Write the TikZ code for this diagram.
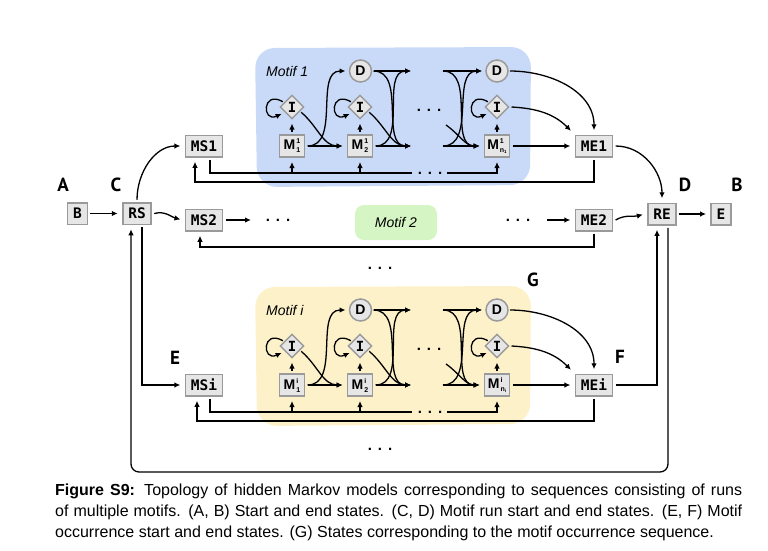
\documentclass[tikz,border=0pt]{standalone}
\usepackage{fontspec}
\setmainfont{Liberation Sans}
\newfontfamily\monofont{DejaVu Sans Mono}
\newfontfamily\labfont{PT Sans}
\usetikzlibrary{arrows.meta,shapes.geometric,calc}

\definecolor{boxfill}{HTML}{E6E6E6}
\definecolor{boxdraw}{HTML}{9A9A9A}
\definecolor{blueblob}{HTML}{C9DAF8}
\definecolor{yellowblob}{HTML}{FCF1C8}
\definecolor{greenblob}{HTML}{D6F5C4}

\newcommand\Mlab[2]{{\bfseries\fontsize{14}{14}\selectfont M}\kern1pt\makebox[0pt][l]{\raisebox{6pt}{\fontsize{7}{7}\selectfont\bfseries #1}}\raisebox{-3pt}{\fontsize{7}{7}\selectfont\bfseries #2}}
\newcommand\nsub[1]{n\raisebox{-1.2pt}{\fontsize{4.5}{4.5}\selectfont #1}}
\newcommand\mydots{.\hspace{6pt}.\hspace{6pt}.}

\tikzset{
 statebox/.style={draw=boxdraw, fill=boxfill, line width=1.5pt, minimum height=21.5pt, inner xsep=5.5pt, inner ysep=2pt, outer sep=3pt, font=\monofont\bfseries\fontsize{14.5}{15}\selectfont},
 mbox/.style={draw=boxdraw, fill=boxfill, line width=1.5pt, minimum width=25pt, minimum height=22pt, inner sep=0pt, outer sep=3pt},
 dcirc/.style={circle, draw=boxdraw, fill=boxfill, line width=1.5pt, minimum size=22pt, inner sep=0pt, outer sep=2pt, font=\bfseries\fontsize{14}{14}\selectfont},
 idiam/.style={diamond, draw=boxdraw, fill=boxfill, line width=1.5pt, minimum width=25pt, minimum height=25pt, inner sep=0pt, outer sep=2pt, font=\monofont\bfseries\fontsize{14}{14}\selectfont},
 conn/.style={line width=1.3pt, shorten >=2pt, -{Latex[length=6pt,width=5.5pt]}},
 plainline/.style={line width=1.3pt},
 biglabel/.style={font=\labfont\bfseries\fontsize{19}{19}\selectfont},
 motiflabel/.style={font=\itshape\fontsize{14}{14}\selectfont, inner sep=0pt},
 dotstext/.style={font=\bfseries\fontsize{15}{15}\selectfont, inner sep=0pt, anchor=base},
 captext/.style={anchor=base west, inner sep=0pt, font=\fontsize{16}{21}\selectfont},
}

\begin{document}
\begin{tikzpicture}[x=1pt,y=-1pt]
\useasboundingbox (0,0) rectangle (768,550);

% blobs
\fill[blueblob, rounded corners=20pt] (255,48) -- (531,47) -- (530,185) -- (257,187) -- cycle;
\fill[yellowblob, rounded corners=20pt] (255,287) -- (531,286) -- (530,424) -- (257,426) -- cycle;
\node[fill=greenblob, rounded corners=9pt, minimum width=82pt, minimum height=35pt, font=\itshape\fontsize{14}{14}\selectfont] (motif2) at (396,222.5) {Motif 2};

% outer states
\node[statebox] (B) at (77.5,213.5) {B};
\node[statebox] (RS) at (137,213.5) {RS};
\node[statebox] (MS1) at (204,146) {MS1};
\node[statebox] (MS2) at (204,220) {MS2};
\node[statebox] (MSi) at (204,385) {MSi};
\node[statebox] (ME1) at (594,146) {ME1};
\node[statebox] (ME2) at (594,220) {ME2};
\node[statebox] (MEi) at (594,385) {MEi};
\node[statebox] (RE) at (662,214) {RE};
\node[statebox] (E) at (721,214) {E};

% letters
\node[biglabel] (lA) at (63,185) {A};
\node[biglabel] (lC) at (116,185) {C};
\node[biglabel] (lD) at (685,185) {D};
\node[biglabel] (lB) at (737,185) {B};
\node[biglabel] (lE) at (175,358) {E};
\node[biglabel] (lF) at (620,357) {F};
\node[biglabel] (lG) at (533,280) {G};

% ---------- Motif 1 ----------
\node[motiflabel, anchor=west] (mot1) at (266,71) {Motif 1};
\node[idiam] (I1t) at (292,107) {I};
\node[mbox] (M1t) at (292,146) {\Mlab{1}{1}};
\node[dcirc] (D2t) at (360.5,71) {D};
\node[idiam] (I2t) at (360,107) {I};
\node[mbox] (M2t) at (360,146) {\Mlab{1}{2}};
\node[dcirc] (Dnt) at (497,71) {D};
\node[idiam] (Int) at (497,107) {I};
\node[mbox] (Mnt) at (497,146) {\Mlab{1}{\nsub{1}}};
\node[dotstext] (dt1) at (429,111.5) {\mydots};

\coordinate (xa1t) at (413,71);
\coordinate (xa2t) at (413,146);
\coordinate (xb1t) at (443,71);
\coordinate (xb2t) at (443,146);
\coordinate (xct) at (446,125);

\foreach \n in {I1t,I2t,Int}{
  \draw[conn] (\n.150) .. controls +(150:24pt) and +(205:24pt) .. (\n.215);
}
\draw[conn] (M1t) -- (I1t);
\draw[conn] (M2t) -- (I2t);
\draw[conn] (Mnt) -- (Int);

\draw[conn] (M1t) -- (M2t);
\draw[conn] (M1t.east) to[out=0,in=180] (D2t.west);
\draw[conn] (I1t.-30) to[out=-40,in=180] (M2t.west);

\draw[conn] (D2t) -- (xa1t);
\draw[conn] (D2t.east) to[out=0,in=180] (xa2t);
\draw[conn] (M2t) -- (xa2t);
\draw[conn] (M2t.east) to[out=0,in=180] (xa1t);
\draw[conn] (I2t.-30) to[out=-40,in=180] (xa2t);

\draw[conn] (xb1t) -- (Dnt);
\draw[conn] (xb1t) to[out=0,in=180] (Mnt.west);
\draw[conn] (xb2t) -- (Mnt);
\draw[conn] (xb2t) to[out=0,in=180] (Dnt.west);
\draw[conn] (xct) to[out=-35,in=180] (Mnt.west);

\draw[conn] (Dnt.east) to[out=0,in=90] (ME1.north);
\draw[conn] (Int.east) to[out=-3,in=135] (ME1.north west);
\draw[conn] (Mnt) -- (ME1);

% feedback lines motif 1
\coordinate (inl1t) at (412,173);
\coordinate (inr1t) at (447,173);
\coordinate (out1y) at (0,182);
\draw[plainline] ([xshift=6pt]MS1.south) |- (inl1t);
\draw[conn] (M1t |- inl1t) -- (M1t);
\draw[conn] (M2t |- inl1t) -- (M2t);
\draw[conn] (inr1t) -| (Mnt);
\node[dotstext] (dt2) at (430,174.5) {\mydots};
\draw[conn] (ME1.south) -- (ME1.south |- out1y) -| ([xshift=-9pt]MS1.south);

% ---------- Motif i ----------
\node[motiflabel, anchor=west] (moti) at (266,310) {Motif i};
\node[idiam] (I1b) at (292,346) {I};
\node[mbox] (M1b) at (292,385) {\Mlab{i}{1}};
\node[dcirc] (D2b) at (360.5,310) {D};
\node[idiam] (I2b) at (360,346) {I};
\node[mbox] (M2b) at (360,385) {\Mlab{i}{2}};
\node[dcirc] (Dnb) at (497,310) {D};
\node[idiam] (Inb) at (497,346) {I};
\node[mbox] (Mnb) at (497,385) {\Mlab{i}{\nsub{i}}};
\node[dotstext] (db1) at (429,350.5) {\mydots};

\coordinate (xa1b) at (413,310);
\coordinate (xa2b) at (413,385);
\coordinate (xb1b) at (443,310);
\coordinate (xb2b) at (443,385);
\coordinate (xcb) at (446,364);

\foreach \n in {I1b,I2b,Inb}{
  \draw[conn] (\n.150) .. controls +(150:24pt) and +(205:24pt) .. (\n.215);
}
\draw[conn] (M1b) -- (I1b);
\draw[conn] (M2b) -- (I2b);
\draw[conn] (Mnb) -- (Inb);

\draw[conn] (M1b) -- (M2b);
\draw[conn] (M1b.east) to[out=0,in=180] (D2b.west);
\draw[conn] (I1b.-30) to[out=-40,in=180] (M2b.west);

\draw[conn] (D2b) -- (xa1b);
\draw[conn] (D2b.east) to[out=0,in=180] (xa2b);
\draw[conn] (M2b) -- (xa2b);
\draw[conn] (M2b.east) to[out=0,in=180] (xa1b);
\draw[conn] (I2b.-30) to[out=-40,in=180] (xa2b);

\draw[conn] (xb1b) -- (Dnb);
\draw[conn] (xb1b) to[out=0,in=180] (Mnb.west);
\draw[conn] (xb2b) -- (Mnb);
\draw[conn] (xb2b) to[out=0,in=180] (Dnb.west);
\draw[conn] (xcb) to[out=-35,in=180] (Mnb.west);

\draw[conn] (Dnb.east) to[out=0,in=90] (MEi.north);
\draw[conn] (Inb.east) to[out=-3,in=135] (MEi.north west);
\draw[conn] (Mnb) -- (MEi);

\coordinate (inl1b) at (412,412);
\coordinate (inr1b) at (447,412);
\coordinate (out1yb) at (0,421);
\draw[plainline] ([xshift=6pt]MSi.south) |- (inl1b);
\draw[conn] (M1b |- inl1b) -- (M1b);
\draw[conn] (M2b |- inl1b) -- (M2b);
\draw[conn] (inr1b) -| (Mnb);
\node[dotstext] (db2) at (430,413.5) {\mydots};
\draw[conn] (MEi.south) -- (MEi.south |- out1yb) -| ([xshift=-7pt]MSi.south);

% ---------- Motif 2 row ----------
\coordinate (m2a) at (253,220);
\coordinate (m2b) at (547,220);
\coordinate (out2y) at (0,247);
\draw[conn] (MS2) -- (m2a);
\node[dotstext] (dm1) at (278,221.5) {\mydots};
\node[dotstext] (dm2) at (518,221.5) {\mydots};
\draw[conn] (m2b) -- (ME2);
\draw[conn] (ME2.south) -- (ME2.south |- out2y) -| ([xshift=-4pt]MS2.south);

% middle and bottom dots
\node[dotstext] (dmid) at (380,269.5) {\mydots};
\node[dotstext] (dbot) at (380,450.5) {\mydots};

% ---------- outer connections ----------
\draw[conn] (B) -- (RS);
\draw[conn] (RS.north) to[out=90,in=180] (MS1.west);
\draw[conn] (RS.east) to[out=15,in=165] (MS2.west);
\draw[conn] ([xshift=5pt]RS.south) |- (MSi.west);
\draw[conn] (ME1.east) to[out=0,in=90] (RE.north);
\draw[conn] (ME2.east) to[out=30,in=195] (RE.west);
\draw[conn] (MEi.east) -| ([xshift=-5pt]RE.south);
\draw[conn] (RE) -- (E);
\coordinate (loopy) at (0,472);
\draw[conn, rounded corners=8pt] ([xshift=6pt]RE.south) -- ([xshift=6pt]RE.south |- loopy) -- ([xshift=-6pt]RS.south |- loopy) -- ([xshift=-6pt]RS.south);

% ---------- caption ----------
\node[captext] (cap1) at (55,495) {\makebox[687pt][s]{\textbf{Figure S9:} Topology of hidden Markov models corresponding to sequences consisting of runs}};
\node[captext] (cap2) at (55,516) {\makebox[687pt][s]{of multiple motifs. (A, B) Start and end states. (C, D) Motif run start and end states. (E, F) Motif}};
\node[captext] (cap3) at (55,537) {occurrence start and end states. (G) States corresponding to the motif occurrence sequence.};
\end{tikzpicture}
\end{document}
